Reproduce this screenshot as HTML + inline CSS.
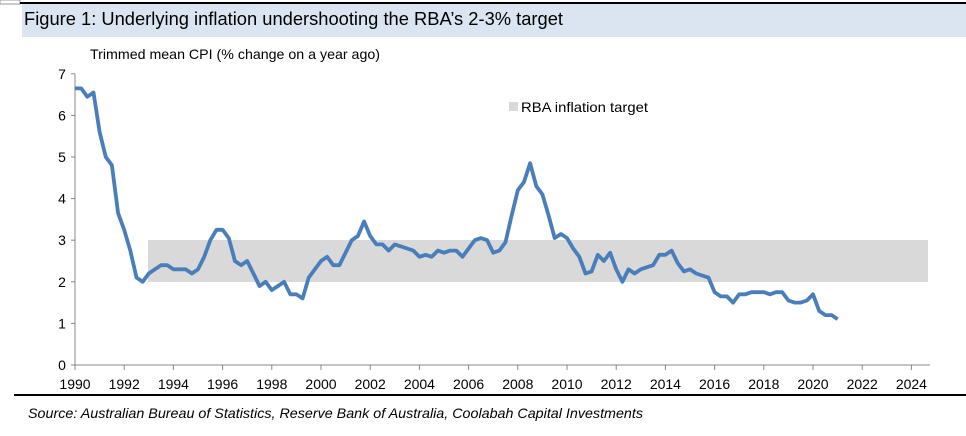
<!DOCTYPE html>
<html><head><meta charset="utf-8"><style>
body{margin:0;width:966px;height:431px;background:#fff;overflow:hidden;font-family:"Liberation Sans",sans-serif}
</style></head><body>
<svg width="966" height="431" xmlns="http://www.w3.org/2000/svg" font-family="Liberation Sans, sans-serif">
<rect x="0" y="0" width="20" height="4" fill="none" stroke="#999" stroke-width="1"/>
<line x1="20" y1="3" x2="966" y2="3" stroke="#000" stroke-width="2"/>
<rect x="22" y="4" width="944" height="33" fill="#dbe5f1"/>
<text x="24" y="25" font-size="18" fill="#000" textLength="539" lengthAdjust="spacingAndGlyphs">Figure 1: Underlying inflation undershooting the RBA’s 2-3% target</text>
<text x="90" y="59" font-size="14" fill="#000" textLength="290" lengthAdjust="spacingAndGlyphs">Trimmed mean CPI (% change on a year ago)</text>
<rect x="148" y="240" width="780" height="42" fill="#d9d9d9"/>
<rect x="509" y="102" width="9" height="9" fill="#d9d9d9"/>
<text x="521" y="112" font-size="14" fill="#000" textLength="127" lengthAdjust="spacingAndGlyphs">RBA inflation target</text>
<g id="ax" stroke="#888" stroke-width="1"></g>
<g id="lab" font-size="14" fill="#000"></g>
<polyline id="ln" fill="none" stroke="#4a7ebb" stroke-width="3.8" stroke-linejoin="round"/>
<line x1="14" y1="395" x2="966" y2="395" stroke="#000" stroke-width="2"/>
<text x="28" y="418" font-size="14" font-style="italic" fill="#000" textLength="615" lengthAdjust="spacingAndGlyphs">Source: Australian Bureau of Statistics, Reserve Bank of Australia, Coolabah Capital Investments</text>
</svg>
<script>
var X=function(y){return 75+(y-1990)*24.6},Y=function(v){return 365-v*41.6};
var ax=document.getElementById('ax'),lab=document.getElementById('lab'),s='',t='';
s+='<line x1="75" y1="74" x2="75" y2="365"/><line x1="75" y1="365" x2="930" y2="365"/>';
for(var v=0;v<=7;v++){s+='<line x1="71" y1="'+Y(v)+'" x2="75" y2="'+Y(v)+'"/>';t+='<text x="62" y="'+(Y(v)+5)+'" text-anchor="middle">'+v+'</text>';}
for(var y=1990;y<=2024;y+=2){s+='<line x1="'+X(y)+'" y1="365" x2="'+X(y)+'" y2="370"/>';t+='<text x="'+X(y)+'" y="389" text-anchor="middle">'+y+'</text>';}
ax.innerHTML=s;lab.innerHTML=t;
var d=[6.65,6.65,6.45,6.55,5.6,5.0,4.8,3.65,3.25,2.75,2.1,2.0,2.2,2.3,2.4,2.4,2.3,2.3,2.3,2.2,2.3,2.6,3.0,3.25,3.25,3.05,2.5,2.4,2.5,2.2,1.9,2.0,1.8,1.9,2.0,1.7,1.7,1.6,2.1,2.3,2.5,2.6,2.4,2.4,2.7,3.0,3.1,3.45,3.1,2.9,2.9,2.75,2.9,2.85,2.8,2.75,2.6,2.65,2.6,2.75,2.7,2.75,2.75,2.6,2.8,3.0,3.05,3.0,2.7,2.75,2.95,3.6,4.2,4.4,4.85,4.3,4.1,3.6,3.05,3.15,3.05,2.8,2.6,2.2,2.25,2.65,2.5,2.7,2.3,2.0,2.3,2.2,2.3,2.35,2.4,2.65,2.65,2.75,2.45,2.25,2.3,2.2,2.15,2.1,1.75,1.65,1.65,1.5,1.7,1.7,1.75,1.75,1.75,1.7,1.75,1.75,1.55,1.5,1.5,1.55,1.7,1.3,1.2,1.2,1.1];
var p=d.map(function(v,i){return X(1990+i*0.25).toFixed(1)+','+Y(v).toFixed(1)}).join(' ');
document.getElementById('ln').setAttribute('points',p);
</script>
</body></html>
